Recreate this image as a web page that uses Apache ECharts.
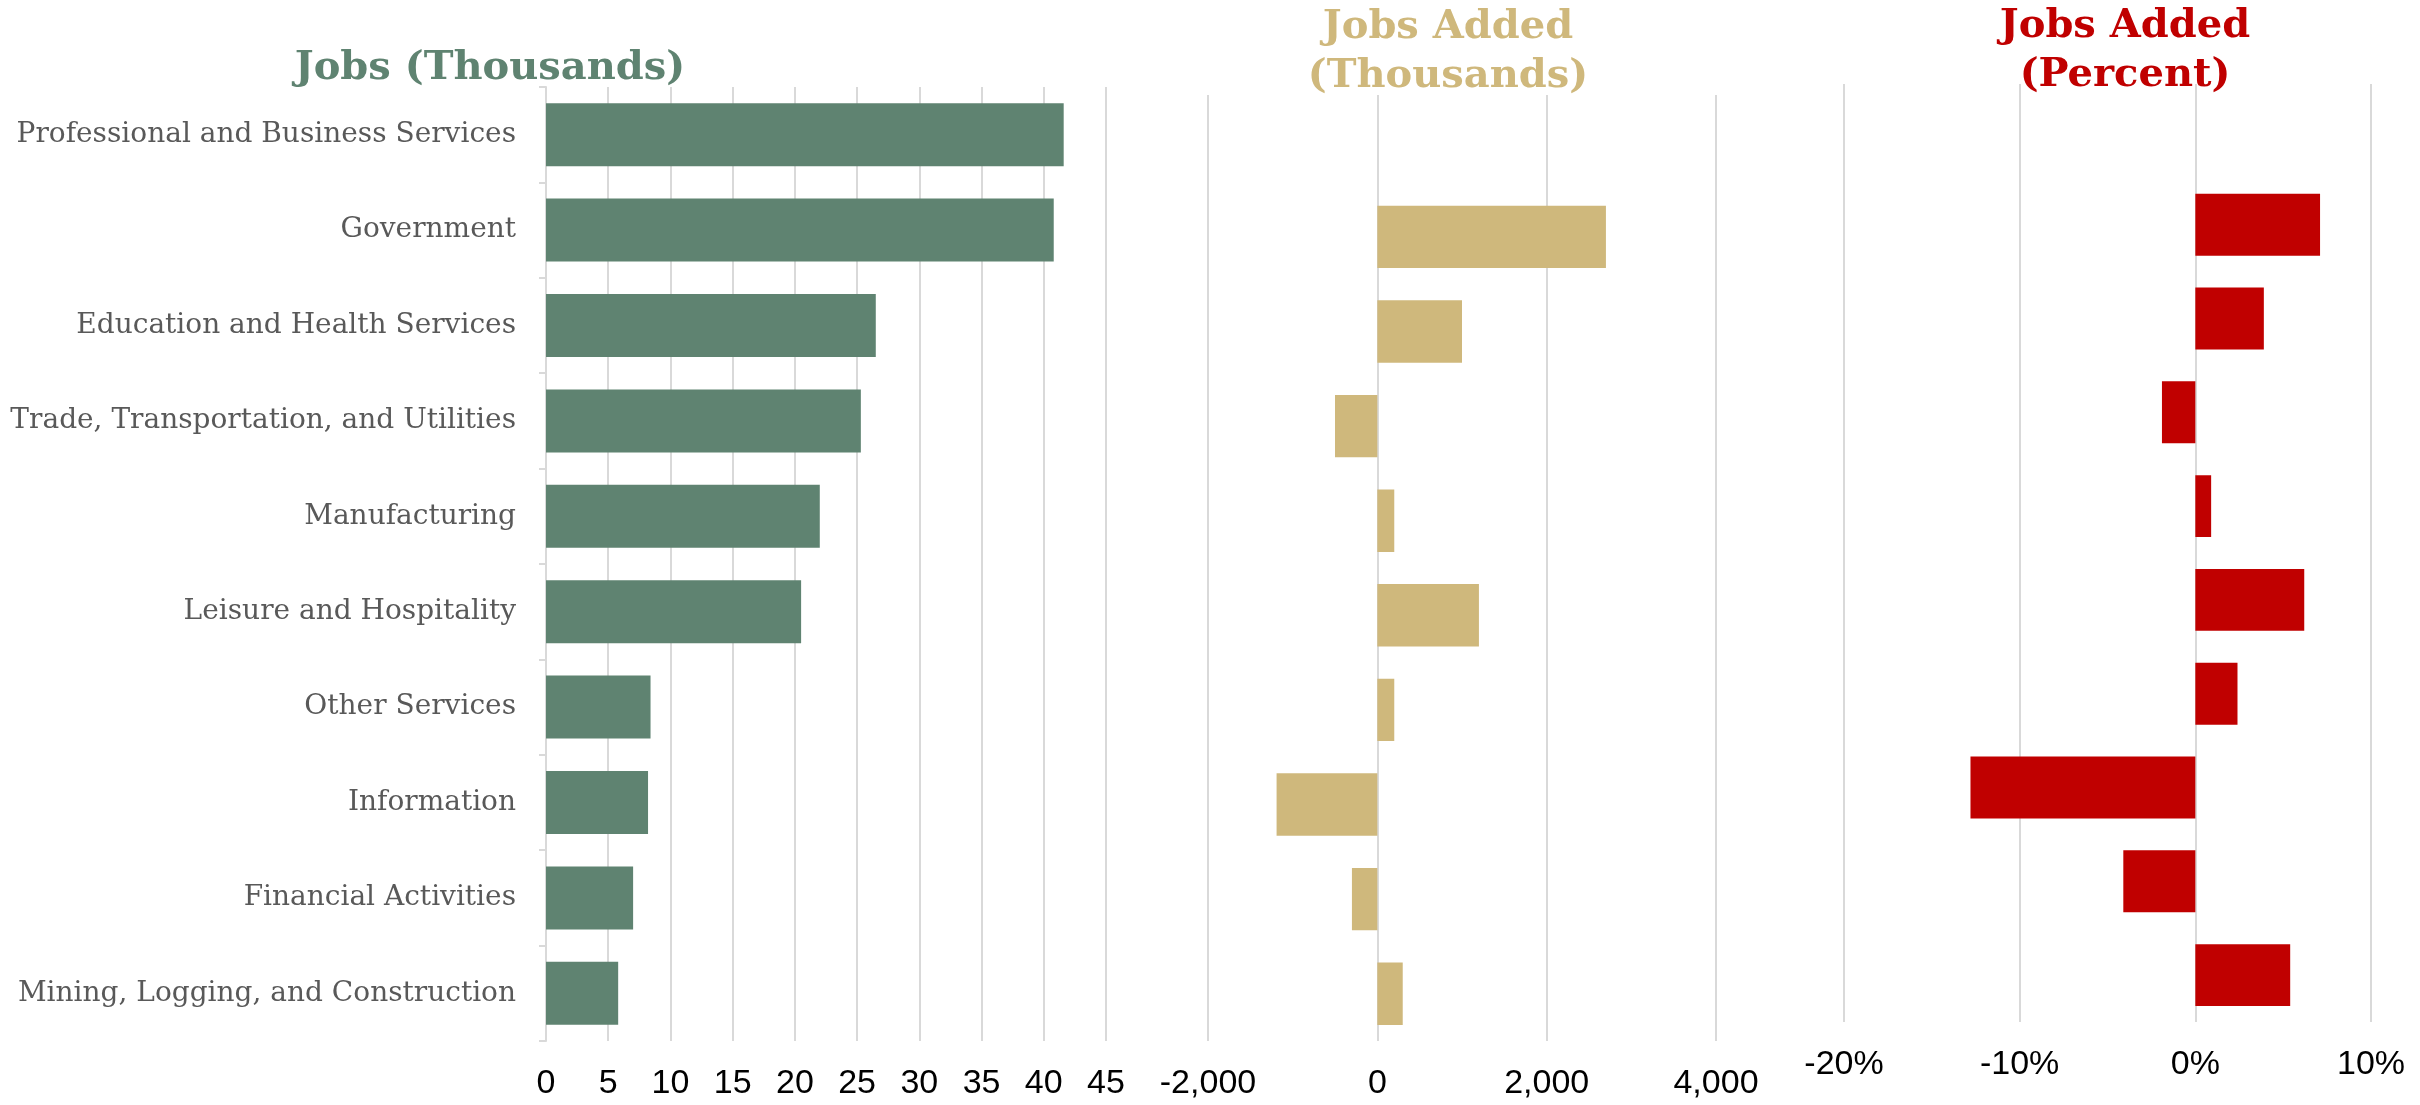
<!DOCTYPE html>
<html>
<head>
<meta charset="utf-8">
<script src="https://cdn.jsdelivr.net/npm/echarts@6/dist/echarts.min.js"></script>
<style>
  html, body { margin: 0; padding: 0; background: #ffffff; }
  #chart { width: 2420px; height: 1105px; }
</style>
</head>
<body>
<div id="chart"></div>
<script>
// Industry sectors, top to bottom
const sectors = [
  'Professional and Business Services',
  'Government',
  'Education and Health Services',
  'Trade, Transportation, and Utilities',
  'Manufacturing',
  'Leisure and Hospitality',
  'Other Services',
  'Information',
  'Financial Activities',
  'Mining, Logging, and Construction'
];

// Jobs, thousands
const jobsThousands = [41.6, 40.8, 26.5, 25.3, 22.0, 20.5, 8.4, 8.2, 7.0, 5.8];

// Jobs added, thousands (no figure for the first sector)
const jobsAddedThousands = [null, 2700, 1000, -500, 200, 1200, 200, -1190, -300, 300];

// Jobs added, percent
const jobsAddedPercent = [null, 7.1, 3.9, -1.9, 0.9, 6.2, 2.4, -12.8, -4.1, 5.4];

// Value-axis ranges and tick steps for the three panels
const jobsTicks = { min: 0, max: 45, interval: 5 };
const addedTicks = { min: -2000, max: 4000, interval: 2000 };
const percentTicks = { min: -20, max: 10, interval: 10 };

const GREEN = '#5F8371';
const TAN = '#CFB87C';
const RED = '#C00000';
const GRID_LINE = '#D9D9D9';
const serif = '"DejaVu Serif", Georgia, serif';
const sans = '"Liberation Sans", Arial, sans-serif';

const chart = echarts.init(document.getElementById('chart'), null, { renderer: 'canvas' });

function valueAxis(gridIndex, ticks, formatter) {
  return {
    type: 'value',
    gridIndex: gridIndex,
    min: ticks.min,
    max: ticks.max,
    interval: ticks.interval,
    axisLine: { show: false },
    axisTick: { show: false },
    splitLine: { show: true, lineStyle: { color: GRID_LINE, width: 2 } },
    axisLabel: {
      color: '#000000',
      fontFamily: sans,
      fontSize: 34,
      margin: 26,
      formatter: formatter
    }
  };
}

function categoryAxis(gridIndex, showLabels) {
  return {
    type: 'category',
    gridIndex: gridIndex,
    data: sectors,
    inverse: true,
    axisLine: { show: showLabels, lineStyle: { color: GRID_LINE, width: 2 } },
    axisTick: { show: showLabels, length: 7, lineStyle: { color: GRID_LINE, width: 2 } },
    axisLabel: {
      show: showLabels,
      color: '#595959',
      fontFamily: serif,
      fontSize: 28,
      margin: 30
    }
  };
}

function titleBlock(text, centerX, top, color) {
  return {
    text: text,
    left: centerX,
    top: top,
    textAlign: 'center',
    padding: 0,
    textStyle: {
      fontFamily: serif,
      fontWeight: 'bold',
      fontSize: 40,
      lineHeight: 49,
      color: color
    }
  };
}

const withCommas = function (v) {
  return v.toLocaleString('en-US');
};

const option = {
  backgroundColor: '#ffffff',
  animation: false,
  title: [
    titleBlock('Jobs (Thousands)', 490, 44, GREEN),
    titleBlock('Jobs Added\n(Thousands)', 1448, 3, TAN),
    titleBlock('Jobs Added\n(Percent)', 2125, 2, RED)
  ],
  grid: [
    { left: 546, top: 87, width: 560, height: 954 },
    { left: 1208, top: 95, width: 508, height: 946 },
    { left: 1844, top: 84, width: 527, height: 938 }
  ],
  xAxis: [
    valueAxis(0, jobsTicks, function (v) { return String(v); }),
    valueAxis(1, addedTicks, withCommas),
    valueAxis(2, percentTicks, function (v) { return v + '%'; })
  ],
  yAxis: [
    categoryAxis(0, true),
    categoryAxis(1, false),
    categoryAxis(2, false)
  ],
  series: [
    {
      type: 'bar',
      xAxisIndex: 0,
      yAxisIndex: 0,
      data: jobsThousands,
      barCategoryGap: '34%',
      itemStyle: { color: GREEN }
    },
    {
      type: 'bar',
      xAxisIndex: 1,
      yAxisIndex: 1,
      data: jobsAddedThousands,
      barCategoryGap: '34%',
      itemStyle: { color: TAN }
    },
    {
      type: 'bar',
      xAxisIndex: 2,
      yAxisIndex: 2,
      data: jobsAddedPercent,
      barCategoryGap: '34%',
      itemStyle: { color: RED }
    }
  ]
};

chart.setOption(option);
</script>
</body>
</html>
